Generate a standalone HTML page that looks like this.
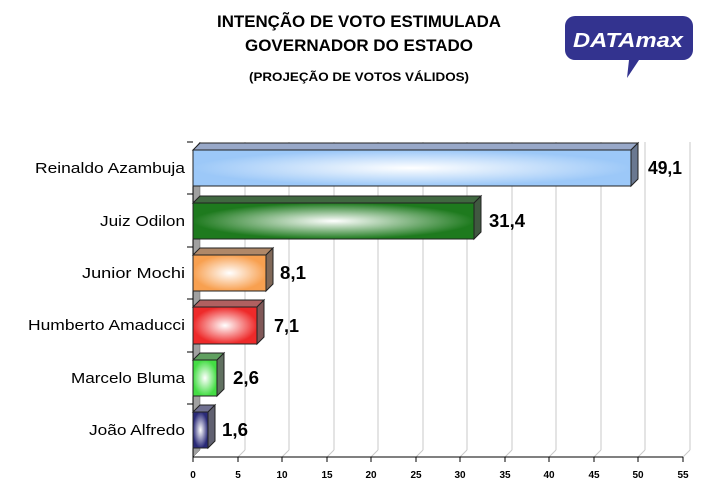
<!DOCTYPE html>
<html><head><meta charset="utf-8"><style>
body{margin:0;background:#fff;}
svg{display:block;}
text{font-family:"Liberation Sans",Arial,sans-serif;}
</style></head><body>
<svg width="716" height="495" viewBox="0 0 716 495" xmlns="http://www.w3.org/2000/svg">
<defs>
<radialGradient id="gb" cx="0.5" cy="0.5" r="0.5"><stop offset="0" stop-color="#fff"/><stop offset="1" stop-color="#9cc8f8"/></radialGradient>
<radialGradient id="gg" cx="0.5" cy="0.5" r="0.5"><stop offset="0" stop-color="#fff"/><stop offset="1" stop-color="#1e7a1e"/></radialGradient>
<radialGradient id="go" cx="0.5" cy="0.5" r="0.5"><stop offset="0" stop-color="#fff"/><stop offset="1" stop-color="#f8a050"/></radialGradient>
<radialGradient id="gr" cx="0.5" cy="0.5" r="0.5"><stop offset="0" stop-color="#fff"/><stop offset="1" stop-color="#ee2a2a"/></radialGradient>
<radialGradient id="gl" cx="0.5" cy="0.5" r="0.5"><stop offset="0" stop-color="#fff"/><stop offset="1" stop-color="#44dd44"/></radialGradient>
<radialGradient id="gn" cx="0.5" cy="0.5" r="0.5"><stop offset="0" stop-color="#fff"/><stop offset="1" stop-color="#2a2a78"/></radialGradient>
</defs>
<text x="359" y="27" text-anchor="middle" font-size="17" font-weight="bold" textLength="284" lengthAdjust="spacingAndGlyphs">INTENÇÃO DE VOTO ESTIMULADA</text>
<text x="359" y="51" text-anchor="middle" font-size="17" font-weight="bold" textLength="228" lengthAdjust="spacingAndGlyphs">GOVERNADOR DO ESTADO</text>
<text x="359" y="81" text-anchor="middle" font-size="12" font-weight="bold" textLength="220" lengthAdjust="spacingAndGlyphs">(PROJEÇÃO  DE VOTOS VÁLIDOS)</text>
<path d="M575 16 h108 a10 10 0 0 1 10 10 v24 a10 10 0 0 1 -10 10 h-44 l-12 18 l2 -18 h-54 a10 10 0 0 1 -10 -10 v-24 a10 10 0 0 1 10 -10z" fill="#33338f"/>
<text x="628" y="47" text-anchor="middle" font-size="20" font-weight="bold" font-style="italic" fill="#fff" textLength="110" lengthAdjust="spacingAndGlyphs">DATAmax</text>
<polygon points="193,150 200,142 200,450 193,457" fill="#a0a0a0" stroke="#666" stroke-width="0.5"/>
<g stroke="#c8c8c8" stroke-width="1">
<line x1="245" y1="142" x2="245" y2="450"/><line x1="289" y1="142" x2="289" y2="450"/><line x1="334" y1="142" x2="334" y2="450"/><line x1="378" y1="142" x2="378" y2="450"/><line x1="423" y1="142" x2="423" y2="450"/><line x1="467" y1="142" x2="467" y2="450"/><line x1="512" y1="142" x2="512" y2="450"/><line x1="556" y1="142" x2="556" y2="450"/><line x1="601" y1="142" x2="601" y2="450"/><line x1="645" y1="142" x2="645" y2="450"/><line x1="690" y1="142" x2="690" y2="450"/>
<line x1="238" y1="457" x2="245" y2="450"/><line x1="282" y1="457" x2="289" y2="450"/><line x1="327" y1="457" x2="334" y2="450"/><line x1="371" y1="457" x2="378" y2="450"/><line x1="416" y1="457" x2="423" y2="450"/><line x1="460" y1="457" x2="467" y2="450"/><line x1="505" y1="457" x2="512" y2="450"/><line x1="549" y1="457" x2="556" y2="450"/><line x1="594" y1="457" x2="601" y2="450"/><line x1="638" y1="457" x2="645" y2="450"/><line x1="683" y1="457" x2="690" y2="450"/>
</g>
<line x1="193" y1="457" x2="683" y2="457" stroke="#000"/>
<line x1="193" y1="150" x2="193" y2="457" stroke="#000"/>
<g stroke="#000"><line x1="187" y1="142" x2="193" y2="142"/><line x1="187" y1="194" x2="193" y2="194"/><line x1="187" y1="247" x2="193" y2="247"/><line x1="187" y1="299" x2="193" y2="299"/><line x1="187" y1="352" x2="193" y2="352"/><line x1="187" y1="404" x2="193" y2="404"/>
<line x1="193" y1="457" x2="193" y2="462"/><line x1="238" y1="457" x2="238" y2="462"/><line x1="282" y1="457" x2="282" y2="462"/><line x1="327" y1="457" x2="327" y2="462"/><line x1="371" y1="457" x2="371" y2="462"/><line x1="416" y1="457" x2="416" y2="462"/><line x1="460" y1="457" x2="460" y2="462"/><line x1="505" y1="457" x2="505" y2="462"/><line x1="549" y1="457" x2="549" y2="462"/><line x1="594" y1="457" x2="594" y2="462"/><line x1="638" y1="457" x2="638" y2="462"/><line x1="683" y1="457" x2="683" y2="462"/></g>
<g font-size="10" font-weight="bold" text-anchor="middle">
<text x="193" y="478">0</text><text x="238" y="478">5</text><text x="282" y="478">10</text><text x="327" y="478">15</text><text x="371" y="478">20</text><text x="416" y="478">25</text><text x="460" y="478">30</text><text x="505" y="478">35</text><text x="549" y="478">40</text><text x="594" y="478">45</text><text x="638" y="478">50</text><text x="683" y="478">55</text></g>
<g stroke="#222" stroke-width="1">
<polygon points="193,150 200,143 638,143 631,150" fill="#98a8c8"/><polygon points="631,150 638,143 638,179 631,186" fill="#6a7890"/><rect x="193" y="150" width="438" height="36" fill="url(#gb)"/>
<polygon points="193,203 200,196 481,196 474,203" fill="#406840"/><polygon points="474,203 481,196 481,232 474,239" fill="#405840"/><rect x="193" y="203" width="281" height="36" fill="url(#gg)"/>
<polygon points="193,255 200,248 273,248 266,255" fill="#b08868"/><polygon points="266,255 273,248 273,284 266,291" fill="#806858"/><rect x="193" y="255" width="73" height="36" fill="url(#go)"/>
<polygon points="193,307 200,300 264,300 257,307" fill="#b06060"/><polygon points="257,307 264,300 264,337 257,344" fill="#805858"/><rect x="193" y="307" width="64" height="37" fill="url(#gr)"/>
<polygon points="193,360 200,353 224,353 217,360" fill="#60a060"/><polygon points="217,360 224,353 224,389 217,396" fill="#607060"/><rect x="193" y="360" width="24" height="36" fill="url(#gl)"/>
<polygon points="193,412 200,405 215,405 208,412" fill="#707090"/><polygon points="208,412 215,405 215,441 208,448" fill="#606070"/><rect x="193" y="412" width="15" height="36" fill="url(#gn)"/>
</g>
<g font-size="15" text-anchor="end" lengthAdjust="spacingAndGlyphs">
<text x="185" y="173" textLength="150" lengthAdjust="spacingAndGlyphs">Reinaldo Azambuja</text>
<text x="185" y="226" textLength="85" lengthAdjust="spacingAndGlyphs">Juiz Odilon</text>
<text x="185" y="278" textLength="103" lengthAdjust="spacingAndGlyphs">Junior Mochi</text>
<text x="185" y="330" textLength="157" lengthAdjust="spacingAndGlyphs">Humberto Amaducci</text>
<text x="185" y="383" textLength="114" lengthAdjust="spacingAndGlyphs">Marcelo Bluma</text>
<text x="185" y="435" textLength="96" lengthAdjust="spacingAndGlyphs">João Alfredo</text></g>
<g font-size="18" font-weight="bold">
<text x="648" y="174" textLength="34" lengthAdjust="spacingAndGlyphs">49,1</text>
<text x="489" y="227" textLength="36" lengthAdjust="spacingAndGlyphs">31,4</text>
<text x="280" y="279" textLength="26" lengthAdjust="spacingAndGlyphs">8,1</text>
<text x="274" y="332" textLength="25" lengthAdjust="spacingAndGlyphs">7,1</text>
<text x="233" y="384" textLength="26" lengthAdjust="spacingAndGlyphs">2,6</text>
<text x="222" y="436" textLength="26" lengthAdjust="spacingAndGlyphs">1,6</text>
</g>
</svg>
</body></html>
